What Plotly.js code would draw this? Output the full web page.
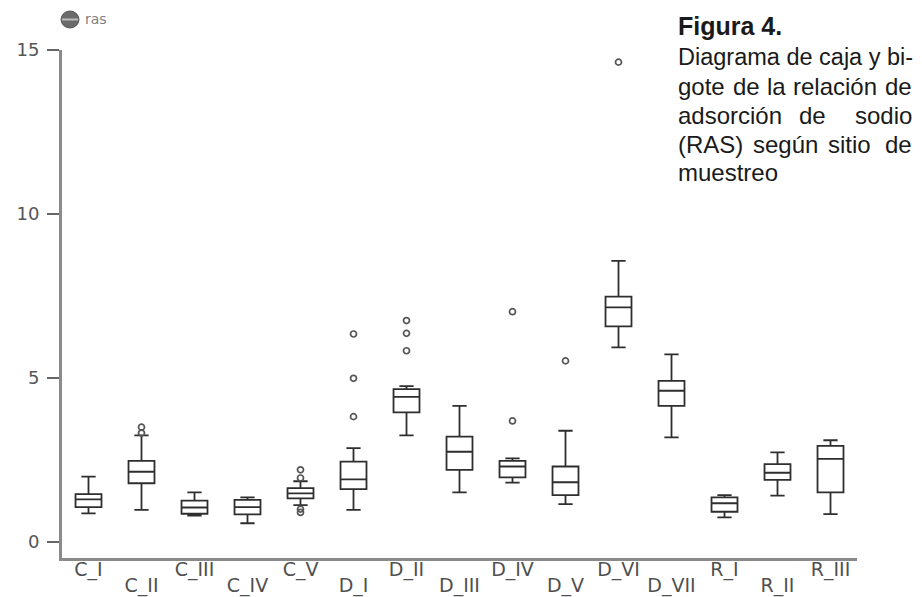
<!DOCTYPE html>
<html>
<head>
<meta charset="utf-8">
<script src="https://cdn.plot.ly/plotly-3.0.1.min.js"></script>
<style>html,body{margin:0;padding:0;background:#fff;}#chart{width:922px;height:597px;}</style>
</head>
<body>
<div id="chart"></div>
<script>
// ---- data ----
const sites = ['C_I','C_II','C_III','C_IV','C_V','D_I','D_II','D_III','D_IV','D_V','D_VI','D_VII','R_I','R_II','R_III'];
const lowerFence = [0.87, 0.98, 0.80, 0.57, 1.12, 0.98, 3.25, 1.51, 1.81, 1.15, 5.93, 3.19, 0.75, 1.41, 0.85];
const q1         = [1.06, 1.79, 0.86, 0.84, 1.33, 1.61, 3.95, 2.20, 1.97, 1.43, 6.57, 4.15, 0.92, 1.89, 1.51];
const median     = [1.30, 2.14, 1.05, 1.06, 1.48, 1.91, 4.42, 2.75, 2.30, 1.82, 7.15, 4.61, 1.18, 2.11, 2.53];
const q3         = [1.46, 2.47, 1.26, 1.28, 1.64, 2.45, 4.66, 3.21, 2.47, 2.30, 7.48, 4.91, 1.36, 2.37, 2.93];
const upperFence = [1.99, 3.25, 1.51, 1.36, 1.85, 2.86, 4.75, 4.15, 2.55, 3.39, 8.57, 5.72, 1.43, 2.73, 3.10];

const outlierSite = ['C_II','C_II','C_V','C_V','C_V','C_V','D_I','D_I','D_I','D_II','D_II','D_II','D_IV','D_IV','D_V','D_VI'];
const outlierVal  = [3.50, 3.32, 2.20, 1.95, 1.00, 0.90, 6.34, 4.99, 3.82, 6.75, 6.36, 5.83, 7.02, 3.69, 5.52, 14.63];

const yTicks = [0, 5, 10, 15];
const seriesName = 'ras';
const captionTitle = 'Figura 4.';
const captionLines = ['Diagrama de caja y bi-', 'gote de la relación de', 'adsorción de sodio', '(RAS) según sitio de', 'muestreo'];

// ---- layout helpers (pixel -> paper) ----
const L = 62, R = 857, T = 50, B = 558;
const px = x => (x - L) / (R - L);
const py = y => (B - y) / (B - T);

const row1Text = sites.map((s, i) => i % 2 === 0 ? s : '');
const row2Text = sites.map((s, i) => i % 2 === 1 ? s : '');

const traces = [
  {
    type: 'box',
    name: seriesName,
    x: sites,
    q1: q1, median: median, q3: q3,
    lowerfence: lowerFence, upperfence: upperFence,
    boxpoints: false,
    fillcolor: '#ffffff',
    line: {color: '#2e2e2e', width: 1.8},
    whiskerwidth: 0.55,
    showlegend: false,
    hoverinfo: 'y'
  },
  {
    type: 'scatter',
    mode: 'markers',
    x: outlierSite,
    y: outlierVal,
    marker: {symbol: 'circle-open', size: 6, color: '#555555', line: {width: 1.7, color: '#555555'}},
    showlegend: false,
    hoverinfo: 'y'
  },
  { // carrier for the second row of category labels
    type: 'scatter', mode: 'none', x: sites, y: median, xaxis: 'x2', yaxis: 'y',
    showlegend: false, hoverinfo: 'skip'
  }
];

const F = 'Liberation Sans, Arial, sans-serif';
const capFont = {family: F, size: 24, color: '#1a1a1a'};
const baselines = [36, 66, 95, 124, 153, 181];
const mid = b => py(b - 9);
const annotations = [];
function word(text, x, b, anchor, font) {
  annotations.push({xref: 'paper', yref: 'paper', x: px(x), y: mid(b), xanchor: anchor, yanchor: 'middle',
    showarrow: false, text: text, font: font || capFont});
}
word('<b>' + captionTitle + '</b>', 676, baselines[0] - 1, 'left', {family: F, size: 25, color: '#1a1a1a'});
word(captionLines[0], 676, baselines[1], 'left', {family: F, size: 23.5, color: '#1a1a1a'});
// justified lines: words placed across the column (left edge 677, right edge 913)
const line2 = captionLines[1].split(' '), line2X = [676, 731, 765, 791];
line2.forEach((w, i) => i < line2.length - 1 ? word(w, line2X[i], baselines[2], 'left') : word(w, 914, baselines[2], 'right'));
const line3 = captionLines[2].split(' '), line3X = [676, 797];
line3.forEach((w, i) => i < line3.length - 1 ? word(w, line3X[i], baselines[3], 'left') : word(w, 914, baselines[3], 'right'));
const line4 = captionLines[3].split(' '), line4X = [676, 751, 826];
line4.forEach((w, i) => i < line4.length - 1 ? word(w, line4X[i], baselines[4], 'left') : word(w, 914, baselines[4], 'right'));
word(captionLines[4], 676, baselines[5], 'left');

// legend-like label
annotations.push({xref: 'paper', yref: 'paper', x: px(83), y: py(19), xanchor: 'left', yanchor: 'middle', showarrow: false,
  text: seriesName, font: {family: 'DejaVu Sans, sans-serif', size: 14, color: '#808080'}});

const shapes = [
  {type: 'circle', xref: 'paper', yref: 'paper', x0: px(61), x1: px(79), y0: py(28), y1: py(11),
   fillcolor: '#6a6a6a', line: {color: '#555555', width: 1}},
  {type: 'line', xref: 'paper', yref: 'paper', x0: px(62), x1: px(78), y0: py(19.5), y1: py(19.5),
   line: {color: '#bdbdbd', width: 2}}
];

const xTickFont = {family: 'DejaVu Sans, sans-serif', size: 19, color: '#505050'};
const layout = {
  width: 922, height: 597,
  margin: {l: L, r: 922 - R, t: T, b: 597 - B, pad: 0},
  paper_bgcolor: '#ffffff', plot_bgcolor: '#ffffff',
  showlegend: false,
  xaxis: {
    type: 'category', categoryorder: 'array', categoryarray: sites,
    range: [-0.5, sites.length - 0.5],
    tickvals: sites, ticktext: row1Text,
    ticks: '', showgrid: false, zeroline: false,
    showline: true, linecolor: '#8a8a8a', linewidth: 3,
    tickfont: xTickFont,
    ticklabelstandoff: -8
  },
  xaxis2: {
    type: 'category', categoryorder: 'array', categoryarray: sites,
    range: [-0.5, sites.length - 0.5],
    overlaying: 'x', anchor: 'y', side: 'bottom',
    tickvals: sites, ticktext: row2Text,
    ticks: '', showgrid: false, zeroline: false, showline: false,
    tickfont: xTickFont,
    ticklabelstandoff: 14
  },
  yaxis: {
    range: [-0.49, 15],
    tickvals: yTicks, ticktext: yTicks.map(String),
    ticks: 'outside', ticklen: 12, tickwidth: 2, tickcolor: '#666666',
    showgrid: false, zeroline: false,
    showline: true, linecolor: '#8a8a8a', linewidth: 3,
    tickfont: {family: 'DejaVu Sans, sans-serif', size: 18, color: '#555555'},
    ticklabelstandoff: 4
  },
  annotations: annotations,
  shapes: shapes
};

Plotly.newPlot('chart', traces, layout, {displayModeBar: false, staticPlot: true});
</script>
</body>
</html>
